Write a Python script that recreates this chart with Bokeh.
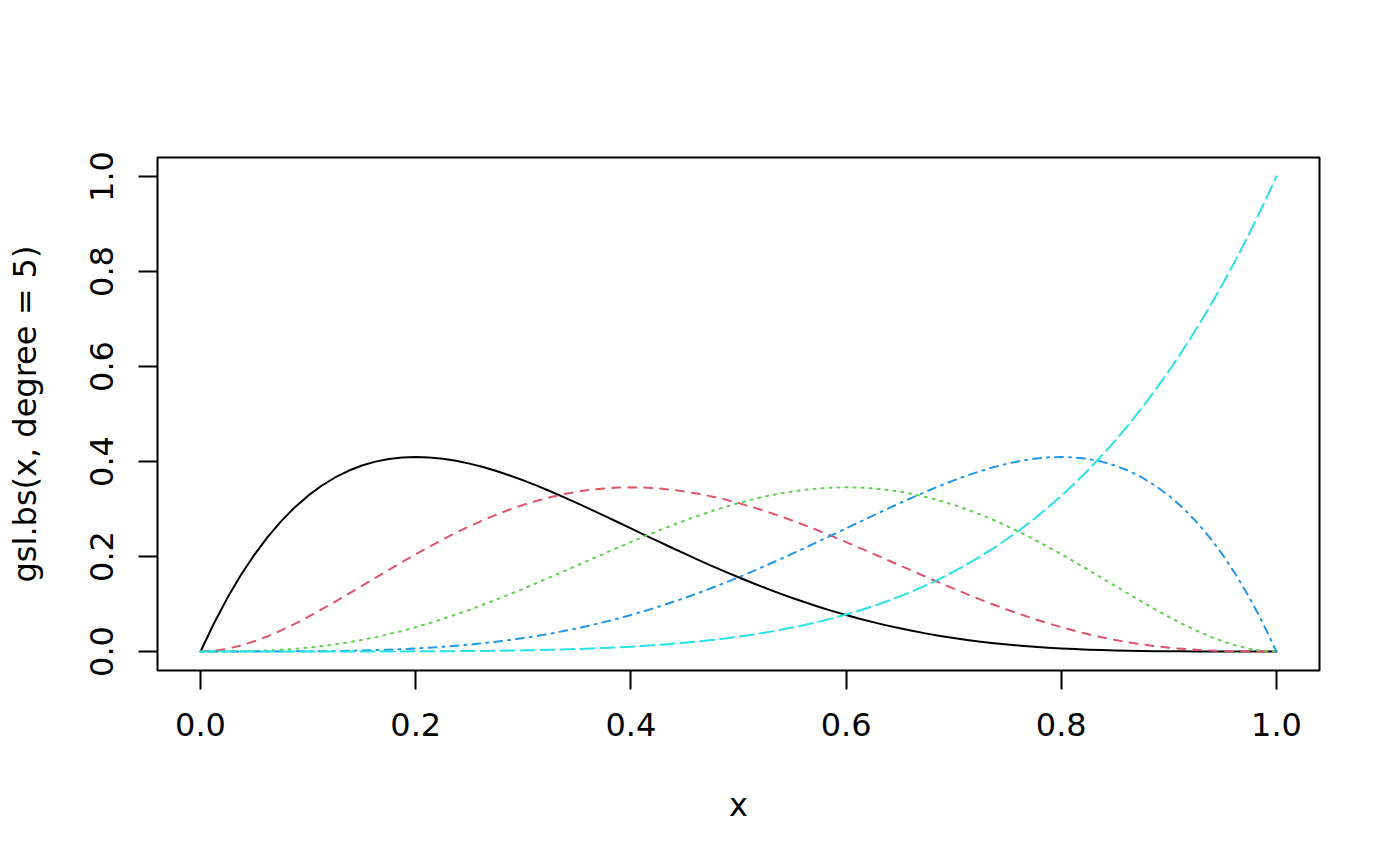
from bokeh.plotting import figure
from bokeh.models import FixedTicker, PrintfTickFormatter, Range1d
from bokeh.embed import file_html
from bokeh.resources import INLINE

# x grid
xs = [0.0, 0.0125, 0.025, 0.0375, 0.05, 0.0625, 0.075, 0.0875, 0.1, 0.1125, 0.125, 0.1375,
      0.15, 0.1625, 0.175, 0.1875, 0.2, 0.2125, 0.225, 0.2375, 0.25, 0.2625, 0.275, 0.2875,
      0.3, 0.3125, 0.325, 0.3375, 0.35, 0.3625, 0.375, 0.3875, 0.4, 0.4125, 0.425, 0.4375,
      0.45, 0.4625, 0.475, 0.4875, 0.5, 0.5125, 0.525, 0.5375, 0.55, 0.5625, 0.575, 0.5875,
      0.6, 0.6125, 0.625, 0.6375, 0.65, 0.6625, 0.675, 0.6875, 0.7, 0.7125, 0.725, 0.7375,
      0.75, 0.7625, 0.775, 0.7875, 0.8, 0.8125, 0.825, 0.8375, 0.85, 0.8625, 0.875, 0.8875,
      0.9, 0.9125, 0.925, 0.9375, 0.95, 0.9625, 0.975, 0.9875, 1.0]

basis1 = [0, 0.05943, 0.11296, 0.16092, 0.20363, 0.24140, 0.27454, 0.30333, 0.32805, 0.34898,
          0.36636, 0.38046, 0.39150, 0.39973, 0.40534, 0.40857, 0.40960, 0.40863, 0.40584,
          0.40141, 0.39551, 0.38828, 0.37989, 0.37047, 0.36015, 0.34907, 0.33734, 0.32508,
          0.31239, 0.29936, 0.28610, 0.27269, 0.25920, 0.24571, 0.23229, 0.21900, 0.20589,
          0.19302, 0.18043, 0.16816, 0.15625, 0.14473, 0.13363, 0.12297, 0.11277, 0.10304,
          0.09380, 0.08505, 0.07680, 0.06905, 0.06180, 0.05504, 0.04877, 0.04298, 0.03765,
          0.03278, 0.02835, 0.02434, 0.02073, 0.01751, 0.01465, 0.01213, 0.00993, 0.00803,
          0.00640, 0.00502, 0.00387, 0.00292, 0.00215, 0.00154, 0.00107, 0.00071, 0.00045,
          0.00027, 0.00015, 0.00007, 0.00003, 0.00001, 0.0, 0.0, 0]
basis2 = [0, 0.00151, 0.00579, 0.01254, 0.02143, 0.03219, 0.04452, 0.05817, 0.07290, 0.08847,
          0.10468, 0.12131, 0.13818, 0.15512, 0.17196, 0.18857, 0.20480, 0.22053, 0.23565,
          0.25006, 0.26367, 0.27640, 0.28819, 0.29897, 0.30870, 0.31734, 0.32485, 0.33121,
          0.33642, 0.34045, 0.34332, 0.34503, 0.34560, 0.34504, 0.34339, 0.34066, 0.33691,
          0.33217, 0.32649, 0.31991, 0.31250, 0.30431, 0.29539, 0.28582, 0.27565, 0.26496,
          0.25381, 0.24226, 0.23040, 0.21829, 0.20599, 0.19359, 0.18115, 0.16873, 0.15641,
          0.14425, 0.13230, 0.12064, 0.10931, 0.09838, 0.08789, 0.07789, 0.06842, 0.05951,
          0.05120, 0.04352, 0.03648, 0.03010, 0.02438, 0.01934, 0.01495, 0.01122, 0.00810,
          0.00558, 0.00361, 0.00215, 0.00113, 0.00049, 0.00015, 0.00002, 0]
basis3 = [0, 0.00002, 0.00015, 0.00049, 0.00113, 0.00215, 0.00361, 0.00558, 0.00810, 0.01122,
          0.01495, 0.01934, 0.02438, 0.03010, 0.03648, 0.04352, 0.05120, 0.05951, 0.06842,
          0.07789, 0.08789, 0.09838, 0.10931, 0.12064, 0.13230, 0.14425, 0.15641, 0.16873,
          0.18115, 0.19359, 0.20599, 0.21829, 0.23040, 0.24226, 0.25381, 0.26496, 0.27565,
          0.28582, 0.29539, 0.30431, 0.31250, 0.31991, 0.32649, 0.33217, 0.33691, 0.34066,
          0.34339, 0.34504, 0.34560, 0.34503, 0.34332, 0.34045, 0.33642, 0.33121, 0.32485,
          0.31734, 0.30870, 0.29897, 0.28819, 0.27640, 0.26367, 0.25006, 0.23565, 0.22053,
          0.20480, 0.18857, 0.17196, 0.15512, 0.13818, 0.12131, 0.10468, 0.08847, 0.07290,
          0.05817, 0.04452, 0.03219, 0.02143, 0.01254, 0.00579, 0.00151, 0]
basis4 = [0, 0.0, 0.0, 0.00001, 0.00003, 0.00007, 0.00015, 0.00027, 0.00045, 0.00071,
          0.00107, 0.00154, 0.00215, 0.00292, 0.00387, 0.00502, 0.00640, 0.00803, 0.00993,
          0.01213, 0.01465, 0.01751, 0.02073, 0.02434, 0.02835, 0.03278, 0.03765, 0.04298,
          0.04877, 0.05504, 0.06180, 0.06905, 0.07680, 0.08505, 0.09380, 0.10304, 0.11277,
          0.12297, 0.13363, 0.14473, 0.15625, 0.16816, 0.18043, 0.19302, 0.20589, 0.21900,
          0.23229, 0.24571, 0.25920, 0.27269, 0.28610, 0.29936, 0.31239, 0.32508, 0.33734,
          0.34907, 0.36015, 0.37047, 0.37989, 0.38828, 0.39551, 0.40141, 0.40584, 0.40863,
          0.40960, 0.40857, 0.40534, 0.39973, 0.39150, 0.38046, 0.36636, 0.34898, 0.32805,
          0.30333, 0.27454, 0.24140, 0.20363, 0.16092, 0.11296, 0.05943, 0]
basis5 = [0, 0.0, 0.0, 0.0, 0.0, 0.0, 0.0, 0.00001, 0.00001, 0.00002, 0.00003, 0.00005,
          0.00008, 0.00011, 0.00016, 0.00023, 0.00032, 0.00043, 0.00058, 0.00076, 0.00098,
          0.00125, 0.00157, 0.00196, 0.00243, 0.00298, 0.00363, 0.00438, 0.00525, 0.00626,
          0.00742, 0.00874, 0.01024, 0.01194, 0.01387, 0.01603, 0.01845, 0.02116, 0.02418,
          0.02753, 0.03125, 0.03536, 0.03988, 0.04486, 0.05033, 0.05631, 0.06286, 0.06999,
          0.07776, 0.08620, 0.09537, 0.10529, 0.11603, 0.12762, 0.14013, 0.15359, 0.16807,
          0.18362, 0.20030, 0.21818, 0.23730, 0.25775, 0.27958, 0.30287, 0.32768, 0.35409,
          0.38218, 0.41203, 0.44371, 0.47730, 0.51291, 0.55061, 0.59049, 0.63265, 0.67719,
          0.72420, 0.77378, 0.82605, 0.88110, 0.93904, 1.0]

ticks = [0.0, 0.2, 0.4, 0.6, 0.8, 1.0]
x_label = "x"
y_label = "gsl.bs(x, degree = 5)"

series = [basis1, basis2, basis3, basis4, basis5]
colors = ["black", "#DF536B", "#61D04F", "#2297E6", "#28E2E5"]
dashes = ["solid", "8 8", "2 6", "2 6 8 6", "14 6"]

p = figure(width=1384, height=850, output_backend="svg", toolbar_location=None,
           x_range=Range1d(-0.04, 1.04), y_range=Range1d(-0.04, 1.04),
           min_border_left=157, min_border_right=65, min_border_top=157, min_border_bottom=180)
p.background_fill_color = "white"
p.border_fill_color = "white"
p.grid.visible = False
p.outline_line_color = "black"
p.outline_line_width = 2

for ys, c, d in zip(series, colors, dashes):
    p.line(xs, ys, line_color=c, line_width=2, line_dash=d,
           line_cap="round", line_join="round")

FONT = "DejaVu Sans"
for ax in (p.xaxis[0], p.yaxis[0]):
    ax.ticker = FixedTicker(ticks=ticks)
    ax.formatter = PrintfTickFormatter(format="%.1f")
    ax.axis_line_color = None
    ax.major_tick_line_color = "black"
    ax.major_tick_line_width = 2
    ax.major_tick_out = 19
    ax.major_tick_in = 0
    ax.minor_tick_line_color = None
    ax.major_label_text_font = FONT
    ax.major_label_text_font_size = "32px"
    ax.major_label_text_color = "black"
    ax.axis_label_text_font = FONT
    ax.axis_label_text_font_size = "32px"
    ax.axis_label_text_font_style = "normal"
    ax.axis_label_text_color = "black"

p.xaxis[0].axis_label = x_label
p.xaxis[0].major_label_standoff = 23
p.xaxis[0].axis_label_standoff = 47
p.yaxis[0].axis_label = y_label
p.yaxis[0].major_label_orientation = "vertical"
p.yaxis[0].major_label_standoff = 26
p.yaxis[0].axis_label_standoff = 43

open("out.html", "w").write(file_html(p, INLINE))
